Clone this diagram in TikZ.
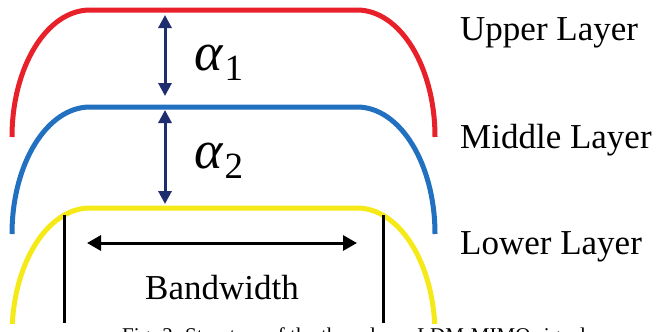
\documentclass[tikz,border=0pt]{standalone}
\usepackage{fontspec}
\usepackage{graphicx}
\setmainfont{Liberation Serif}
\usetikzlibrary{arrows.meta}
\definecolor{lred}{RGB}{232,32,42}
\definecolor{lblue}{RGB}{34,112,192}
\definecolor{lyellow}{RGB}{245,234,24}
\definecolor{navy}{RGB}{30,45,110}
\newcommand{\galpha}[1]{{\fontsize{54}{60}\selectfont\itshape α}\kern2pt\raisebox{-10pt}{\fontsize{37}{40}\selectfont #1}}
\tikzset{
  layer/.style={line width=5pt},
  gaparrow/.style={draw=navy, line width=3pt, {Triangle[width=13pt,length=13pt]}-{Triangle[width=13pt,length=13pt]}},
  bwarrow/.style={draw=black, line width=3pt, {Triangle[width=15pt,length=14pt]}-{Triangle[width=15pt,length=14pt]}},
  bwedge/.style={draw=black, line width=3pt},
  lbl/.style={inner sep=0pt, font=\fontsize{35}{40}\selectfont},
  alab/.style={inner sep=0pt},
  captext/.style={inner sep=0pt, font=\fontsize{21}{25}\selectfont}
}
\begin{document}
\begin{tikzpicture}[x=1pt,y=-1pt]
\clip (0,0) rectangle (656,332);
\fill[white] (0,0) rectangle (656,332);
% upper layer (red)
\draw[layer, lred] (12,137) .. controls (12,66.9) and (46.9,10) .. (90,10)
  -- (357,10) .. controls (400.1,10) and (435,66.9) .. (435,137);
% middle layer (blue)
\draw[layer, lblue] (12,234) .. controls (12,163.9) and (46.9,107) .. (90,107)
  -- (357,107) .. controls (400.1,107) and (435,163.9) .. (435,234);
% lower layer (yellow), cut by the caption strip
\begin{scope}
\clip (0,0) rectangle (656,323);
\draw[layer, lyellow] (12,335) .. controls (12,264.9) and (46.9,208) .. (90,208)
  -- (357,208) .. controls (400.1,208) and (435,264.9) .. (435,335);
\end{scope}
% bandwidth edges
\coordinate (bl1) at (64,215);
\coordinate (bl2) at (64,323);
\coordinate (br1) at (383,215);
\coordinate (br2) at (383,323);
\draw[bwedge] (bl1) -- (bl2);
\draw[bwedge] (br1) -- (br2);
\coordinate (bwL) at (87,243);
\coordinate (bwR) at (357,243);
\draw[bwarrow] (bwL) -- (bwR);
\node[lbl, anchor=base] (bw) at (222,299) {Bandwidth};
% gap arrows
\coordinate (a1t) at (165,15);
\coordinate (a1b) at (165,96);
\coordinate (a2t) at (165,110);
\coordinate (a2b) at (165,204);
\draw[gaparrow] (a1t) -- (a1b);
\draw[gaparrow] (a2t) -- (a2b);
\node[alab, anchor=base west] (al1) at (194,70) {\galpha{1}};
\node[alab, anchor=base west] (al2) at (194,168) {\galpha{2}};
% layer labels
\node[lbl, anchor=base west] (up) at (460,40) {Upper Layer};
\node[lbl, anchor=base west] (mid) at (460,148) {Middle Layer};
\node[lbl, anchor=base west] (low) at (460,254) {Lower Layer};
% caption (cut off at the bottom edge, as in the reference)
\node[captext, anchor=base west] (capt) at (122,342) {Fig. 2. Structure of the three-layer LDM-MIMO signal};
\end{tikzpicture}
\end{document}
